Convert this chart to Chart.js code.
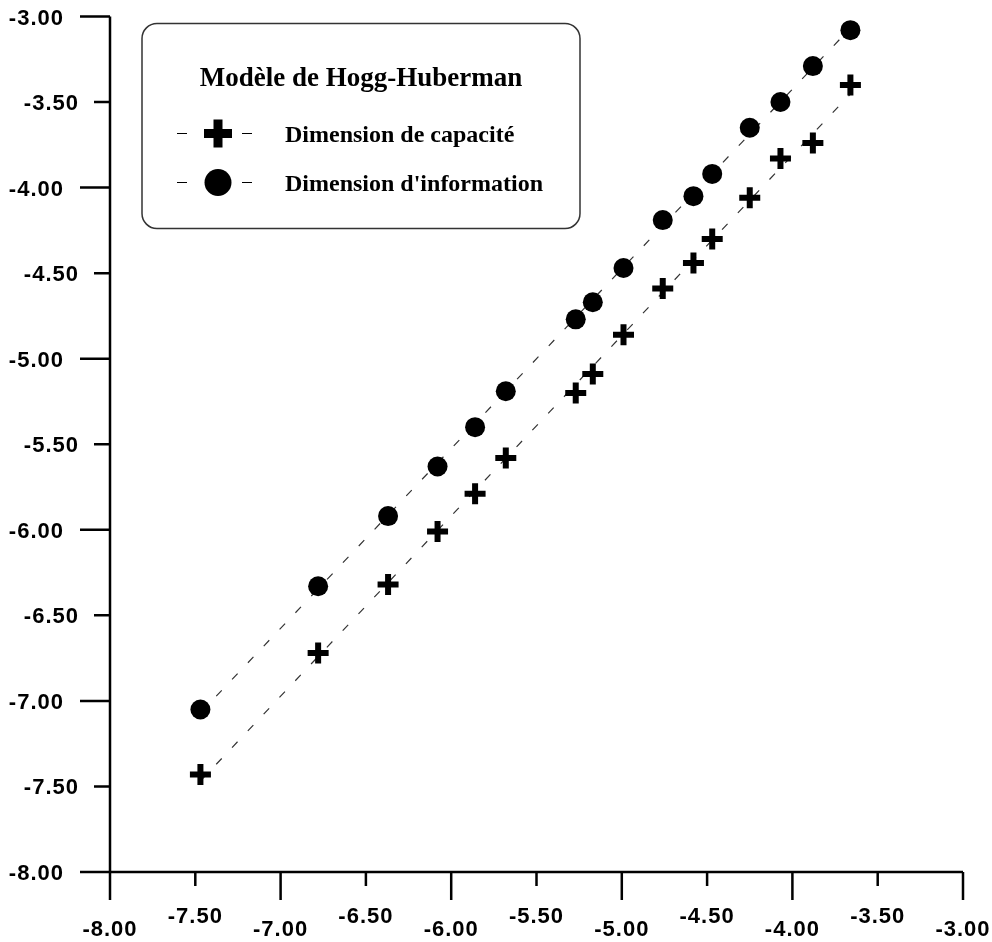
<!DOCTYPE html>
<html>
<head>
<meta charset="utf-8">
<title>Modèle de Hogg-Huberman</title>
<script src="https://cdn.jsdelivr.net/npm/chart.js@4/dist/chart.umd.min.js"></script>
<style>
    html, body { margin: 0; padding: 0; background: #fff; }
    canvas { display: block; }
</style>
</head>
<body>
<canvas id="HoggHuberman" width="992" height="942"></canvas>
<script>
// log of box size (x) and the two dimensions (y)
const LOG_SIZE = [-7.47, -6.78, -6.37, -6.08, -5.86, -5.68, -5.27, -5.17, -4.99, -4.76, -4.58, -4.47, -4.25, -4.07, -3.88, -3.66];
const CAPACITY = [-7.43, -6.72, -6.32, -6.01, -5.79, -5.58, -5.20, -5.09, -4.86, -4.59, -4.44, -4.30, -4.06, -3.83, -3.74, -3.40];
const INFORMATION = [-7.05, -6.33, -5.92, -5.63, -5.40, -5.19, -4.77, -4.67, -4.47, -4.19, -4.05, -3.92, -3.65, -3.50, -3.29, -3.08];
const AXIS_TICKS = [-8, -7.5, -7, -6.5, -6, -5.5, -5, -4.5, -4, -3.5, -3];

const LEGEND_TITLE = 'Modèle de Hogg-Huberman';
const LABEL_CAPACITY = 'Dimension de capacité';
const LABEL_INFORMATION = "Dimension d'information";

const BLACK = '#000';
const DASH_GREY = '#333';
const AXIS_FONT = 'bold 22px "Liberation Sans", Arial, sans-serif';

const toPoints = (xs, ys) => xs.map((x, i) => ({ x: x, y: ys[i] }));

// least squares line over the points, from first to last x
const fitLine = (xs, ys) => {
    var n = xs.length;
    var mx = xs.reduce((a, b) => a + b, 0) / n;
    var my = ys.reduce((a, b) => a + b, 0) / n;
    var sxy = 0, sxx = 0;
    for (var i = 0; i < n; i++) {
        sxy += (xs[i] - mx) * (ys[i] - my);
        sxx += (xs[i] - mx) * (xs[i] - mx);
    }
    var slope = sxy / sxx;
    var x0 = xs[0], x1 = xs[n - 1];
    return [{ x: x0, y: my + slope * (x0 - mx) }, { x: x1, y: my + slope * (x1 - mx) }];
}

const oldAxes = {
    id: 'oldAxes',
    afterDraw(chart) {
        const ctx = chart.ctx;
        const { left, right, top, bottom } = chart.chartArea;
        const xs = chart.scales.x;
        const ys = chart.scales.y;
        ctx.save();
        ctx.strokeStyle = BLACK;
        ctx.lineWidth = 2.5;
        ctx.beginPath();
        ctx.moveTo(left, top);
        ctx.lineTo(left, bottom);
        ctx.moveTo(left, bottom);
        ctx.lineTo(right, bottom);
        AXIS_TICKS.forEach((v) => {
            var major = Number.isInteger(v);
            var px = xs.getPixelForValue(v);
            ctx.moveTo(px, bottom);
            ctx.lineTo(px, bottom + (major ? 28 : 14));
            var py = ys.getPixelForValue(v);
            ctx.moveTo(left, py);
            ctx.lineTo(left - (major ? 30 : 16), py);
        });
        ctx.stroke();

        ctx.font = AXIS_FONT;
        ctx.letterSpacing = '1px';
        ctx.fillStyle = BLACK;
        ctx.textBaseline = 'alphabetic';
        AXIS_TICKS.forEach((v) => {
            var major = Number.isInteger(v);
            var text = v.toFixed(2);
            ctx.textAlign = 'center';
            ctx.fillText(text, xs.getPixelForValue(v), bottom + (major ? 64 : 51));
            ctx.textAlign = 'right';
            ctx.fillText(text, left - (major ? 46 : 31), ys.getPixelForValue(v) + 8);
        });
        ctx.restore();
    }
};

const boxLegend = {
    id: 'boxLegend',
    afterDraw(chart) {
        const ctx = chart.ctx;
        const { left, top } = chart.chartArea;
        const bx = left + 32, by = top + 7, bw = 438, bh = 205;
        ctx.save();
        ctx.beginPath();
        ctx.roundRect(bx, by, bw, bh, 15);
        ctx.fillStyle = '#fff';
        ctx.fill();
        ctx.strokeStyle = '#333';
        ctx.lineWidth = 1.5;
        ctx.stroke();

        ctx.fillStyle = BLACK;
        ctx.font = 'bold 27px "Liberation Serif", "Times New Roman", serif';
        ctx.textAlign = 'center';
        ctx.textBaseline = 'alphabetic';
        ctx.fillText(LEGEND_TITLE, bx + bw / 2, by + 62);

        const rows = [
            { label: LABEL_CAPACITY, style: 'cross', radius: 14, width: 9, y: by + 110 },
            { label: LABEL_INFORMATION, style: 'circle', radius: 13.5, width: 0, y: by + 159 },
        ];
        rows.forEach((row) => {
            ctx.save();
            ctx.setLineDash([10, 55]);
            ctx.lineWidth = 1.2;
            ctx.strokeStyle = BLACK;
            ctx.beginPath();
            ctx.moveTo(bx + 35, row.y);
            ctx.lineTo(bx + 112, row.y);
            ctx.stroke();
            ctx.restore();

            ctx.fillStyle = BLACK;
            ctx.strokeStyle = BLACK;
            ctx.lineWidth = row.width;
            Chart.helpers.drawPoint(ctx, {
                pointStyle: row.style, rotation: 0, radius: row.radius, borderWidth: row.width
            }, bx + 76, row.y);

            ctx.font = 'bold 24px "Liberation Serif", "Times New Roman", serif';
            ctx.textAlign = 'left';
            ctx.fillText(row.label, bx + 143, row.y + 8);
        });
        ctx.restore();
    }
};

const data = {
    datasets: [
        {
            label: 'fit ' + LABEL_CAPACITY,
            type: 'line',
            data: fitLine(LOG_SIZE, CAPACITY),
            borderColor: DASH_GREY,
            borderWidth: 1.2,
            borderDash: [8, 15],
            pointRadius: 0,
            clip: false,
            order: 2,
        },
        {
            label: 'fit ' + LABEL_INFORMATION,
            type: 'line',
            data: fitLine(LOG_SIZE, INFORMATION),
            borderColor: DASH_GREY,
            borderWidth: 1.2,
            borderDash: [8, 15],
            pointRadius: 0,
            clip: false,
            order: 2,
        },
        {
            label: LABEL_CAPACITY,
            data: toPoints(LOG_SIZE, CAPACITY),
            pointStyle: 'cross',
            pointRadius: 10.5,
            pointBorderWidth: 6,
            pointBorderColor: BLACK,
            pointBackgroundColor: BLACK,
            clip: false,
            order: 1,
        },
        {
            label: LABEL_INFORMATION,
            data: toPoints(LOG_SIZE, INFORMATION),
            pointStyle: 'circle',
            pointRadius: 10,
            pointBorderWidth: 0,
            pointBackgroundColor: BLACK,
            clip: false,
            order: 1,
        },
    ]
};

const config = {
    type: 'scatter',
    data: data,
    options: {
        responsive: false,
        animation: false,
        devicePixelRatio: 1,
        layout: { padding: { left: 110, top: 16, right: 29, bottom: 70 } },
        scales: {
            x: { type: 'linear', min: -8, max: -3, display: false },
            y: { type: 'linear', min: -8, max: -3, display: false }
        },
        plugins: {
            legend: { display: false },
            tooltip: { enabled: false }
        }
    },
    plugins: [oldAxes, boxLegend]
};

new Chart(
    document.getElementById('HoggHuberman'),
    config
);
</script>
</body>
</html>
